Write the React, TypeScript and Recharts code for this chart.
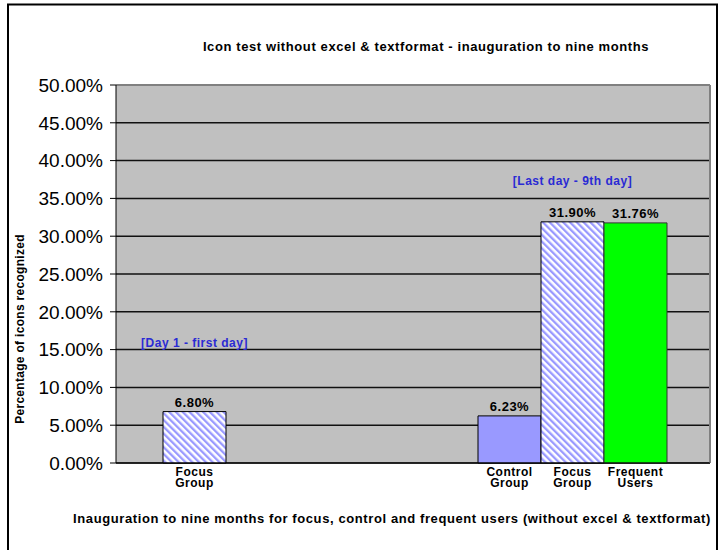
import React from 'react';
import {
  BarChart,
  Bar,
  XAxis,
  YAxis,
  CartesianGrid,
  Cell,
  LabelList,
  ReferenceDot,
  ReferenceLine,
} from 'recharts';

// ---- data ----
const categoryIds = ['focusDay1', 'gap1', 'gap2', 'gap3', 'gap4', 'controlLast', 'focusLast', 'frequentLast'];
const categoryLabels = ['Focus Group', '', '', '', '', 'Control Group', 'Focus Group', 'Frequent Users'];
const recognizedPct: (number | null)[] = [6.8, null, null, null, null, 6.23, 31.9, 31.76];
const groupKinds = ['focus', 'none', 'none', 'none', 'none', 'control', 'focus', 'frequent'];
const yTicks = [0, 5, 10, 15, 20, 25, 30, 35, 40, 45, 50];
const annotationCategories = ['focusDay1', 'focusLast'];
const annotationValues = [15.9, 37.3];
const annotationTexts = ['[Day 1 - first day]', '[Last day - 9th day]'];

const chartTitle = 'Icon test without excel & textformat - inauguration to nine months';
const xTitle = 'Inauguration to nine months for focus, control and frequent users (without excel & textformat)';
const yTitle = 'Percentage of icons recognized';

const data = categoryIds.map((id, i) => ({
  id,
  label: categoryLabels[i],
  value: recognizedPct[i],
  kind: groupKinds[i],
}));

// ---- styles ----
const FONT = '"Liberation Sans", Arial, sans-serif';
const kindFill: Record<string, string> = {
  focus: 'url(#focusStripes)',
  control: '#9999FF',
  frequent: '#00FF00',
  none: 'none',
};
const kindStroke: Record<string, string> = {
  focus: '#000000',
  control: '#000000',
  frequent: '#333333',
  none: 'none',
};

const XTick = (props: any) => {
  const { x, y, payload } = props;
  const idx = categoryIds.indexOf(payload.value);
  const label = idx >= 0 ? categoryLabels[idx] : '';
  if (!label) return null;
  const lines = label.split(' ');
  return (
    <text
      x={x}
      y={y}
      textAnchor="middle"
      fontFamily={FONT}
      fontWeight="bold"
      fontSize={12}
      letterSpacing={0.5}
      fill="#000"
    >
      {lines.map((ln: string, i: number) => (
        <tspan key={i} x={x} dy={i === 0 ? 5 : 11}>
          {ln}
        </tspan>
      ))}
    </text>
  );
};

export default function App() {
  return (
    <div style={{ position: 'absolute', left: 0, top: 0, width: 720, height: 550, background: '#fff' }}>
      <svg width={0} height={0} style={{ position: 'absolute' }}>
        <defs>
          <pattern
            id="focusStripes"
            patternUnits="userSpaceOnUse"
            width={4.8}
            height={4.8}
            patternTransform="rotate(-45)"
          >
            <rect x={0} y={0} width={4.8} height={4.8} fill="#FFFFFF" />
            <rect x={0} y={0} width={2.3} height={4.8} fill="#9999FF" />
          </pattern>
        </defs>
      </svg>
      <BarChart
        width={720}
        height={550}
        data={data}
        margin={{ top: 85, right: 10, bottom: 57, left: 36 }}
        barCategoryGap={0}
        style={{ fontFamily: FONT }}
      >
        <CartesianGrid vertical={false} stroke="#111111" strokeWidth={1.5} fill="#C0C0C0" fillOpacity={1} />
        <CartesianGrid
          horizontal={false}
          stroke="#808080"
          strokeWidth={2}
          verticalCoordinatesGenerator={({ offset }: any) => [offset.left + offset.width]}
        />
        <ReferenceLine y={50} stroke="#808080" strokeWidth={2} />
        <XAxis
          dataKey="id"
          type="category"
          padding={{ left: 47, right: 43 }}
          axisLine={{ stroke: '#000', strokeWidth: 1 }}
          tickLine={false}
          tickSize={6}
          tickMargin={2}
          interval={0}
          height={30}
          tick={<XTick />}
        />
        <YAxis
          type="number"
          domain={[0, 50]}
          ticks={yTicks}
          width={80}
          axisLine={{ stroke: '#000', strokeWidth: 1 }}
          tickLine={{ stroke: '#000', strokeWidth: 1 }}
          tickSize={6}
          tickMargin={7}
          tickFormatter={(v: number) => `${v.toFixed(2)}%`}
          tick={{ fontSize: 19, fill: '#000', fontFamily: FONT }}
        />
        <Bar dataKey="value" isAnimationActive={false}>
          {data.map((d, i) => (
            <Cell key={i} fill={kindFill[d.kind]} stroke={kindStroke[d.kind]} strokeWidth={1} />
          ))}
          <LabelList
            dataKey="value"
            position="top"
            offset={5}
            formatter={(v: any) => (v == null ? '' : `${Number(v).toFixed(2)}%`)}
            style={{ fontFamily: FONT, fontWeight: 'bold', fontSize: 13, letterSpacing: 0.5, fill: '#000' }}
          />
        </Bar>
        {annotationCategories.map((cat, i) => (
          <ReferenceDot
            key={cat}
            x={cat}
            y={annotationValues[i]}
            r={0}
            fill="none"
            stroke="none"
            label={{
              value: annotationTexts[i],
              position: 'center',
              fill: '#2A2AD4',
              fontSize: 12,
              fontWeight: 'bold',
              letterSpacing: 0.5,
              fontFamily: FONT,
            }}
          />
        ))}
      </BarChart>
      <svg
        width={720}
        height={550}
        style={{ position: 'absolute', left: 0, top: 0, pointerEvents: 'none' }}
      >
        <rect x={8} y={4.5} width={709} height={600} fill="none" stroke="#000" strokeWidth={2} />
        <text
          x={426}
          y={51}
          textAnchor="middle"
          fontFamily={FONT}
          fontWeight="bold"
          fontSize={13}
          letterSpacing={0.6}
          fill="#000"
        >
          {chartTitle}
        </text>
        <text
          x={392}
          y={523}
          textAnchor="middle"
          fontFamily={FONT}
          fontWeight="bold"
          fontSize={13}
          letterSpacing={0.6}
          fill="#000"
        >
          {xTitle}
        </text>
        <text
          x={0}
          y={0}
          transform="translate(24 329) rotate(-90)"
          textAnchor="middle"
          fontFamily={FONT}
          fontWeight="bold"
          fontSize={12}
          letterSpacing={0.3}
          fill="#000"
        >
          {yTitle}
        </text>
      </svg>
    </div>
  );
}
